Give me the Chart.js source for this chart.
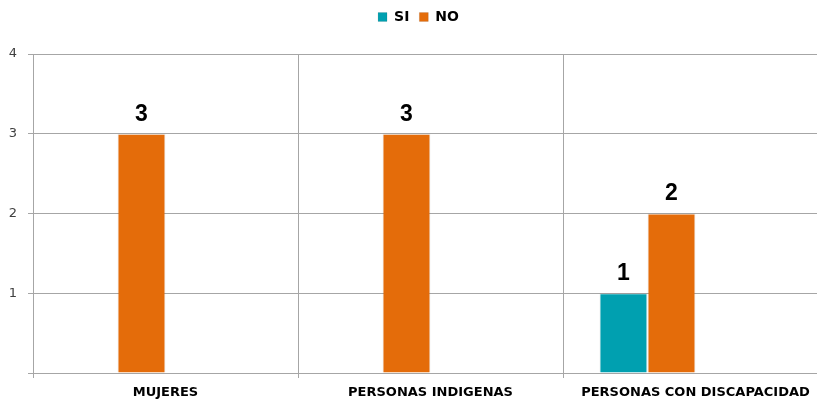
<!DOCTYPE html>
<html>
<head>
<meta charset="utf-8">
<script src="https://cdn.jsdelivr.net/npm/chart.js@4/dist/chart.umd.min.js"></script>
<style>
  html, body { margin: 0; padding: 0; background: #fff; overflow: hidden; }
  #wrap { width: 840px; height: 400px; }
</style>
</head>
<body>
<div id="wrap"><canvas id="chart"></canvas></div>
<script>
const categories = ["MUJERES", "PERSONAS INDIGENAS", "PERSONAS CON DISCAPACIDAD"];
const siValues = [null, null, 1];
const noValues = [3, 3, 2];
const yTicks = [0, 1, 2, 3, 4];

const TEAL = "#00A0B0";
const ORANGE = "#E46C0A";
const GRID = "#a6a6a6";

// bold value labels above each bar
const valueLabels = {
    id: "valueLabels",
    afterDatasetsDraw(chart) {
        const ctx = chart.ctx;
        ctx.save();
        ctx.font = "bold 23px 'Liberation Sans', Arial, sans-serif";
        ctx.fillStyle = "#000";
        ctx.textAlign = "center";
        ctx.textBaseline = "bottom";
        chart.data.datasets.forEach((ds, i) => {
            const meta = chart.getDatasetMeta(i);
            meta.data.forEach((bar, j) => {
                const v = ds.data[j];
                if (v == null) return;
                ctx.fillText(String(v), bar.x, bar.y - 8);
            });
        });
        ctx.restore();
    }
};

// extra room between legend and plot
const legendMargin = {
    id: "legendMargin",
    beforeInit(chart) {
        const fit = chart.legend.fit;
        chart.legend.fit = function () {
            fit.bind(chart.legend)();
            this.height += 20;
        };
    }
};

new Chart(document.getElementById("chart"), {
    type: "bar",
    data: {
        labels: categories,
        datasets: [
            { label: "SI", data: siValues, backgroundColor: TEAL, borderColor: "rgba(0,0,0,0.08)", borderWidth: 1 },
            { label: "NO", data: noValues, backgroundColor: ORANGE, borderColor: "rgba(0,0,0,0.08)", borderWidth: 1 },
            { label: "", data: [null, null, null] },
            { label: "", data: [null, null, null] }
        ]
    },
    options: {
        responsive: true,
        maintainAspectRatio: false,
        animation: false,
        layout: { padding: { left: 9, right: 12, top: 0, bottom: 1 } },
        datasets: { bar: { barPercentage: 1, categoryPercentage: 0.725 } },
        plugins: {
            legend: {
                position: "top",
                labels: {
                    boxWidth: 9,
                    boxHeight: 9,
                    padding: 10,
                    color: "#000",
                    font: { family: "'DejaVu Sans', sans-serif", size: 14, weight: "bold" },
                    filter: item => item.text !== ""
                }
            },
            tooltip: { enabled: false }
        },
        scales: {
            x: {
                offset: true,
                afterFit(scale) { scale.height = 26; },
                grid: { offset: true, color: GRID, tickLength: 5, drawOnChartArea: true },
                border: { color: GRID },
                ticks: {
                    color: "#000",
                    padding: 7,
                    maxRotation: 0,
                    font: { family: "'DejaVu Sans', sans-serif", size: 13, weight: "bold" }
                }
            },
            y: {
                min: 0,
                max: 4,
                afterFit(scale) { scale.width = 24; },
                afterBuildTicks(axis) { axis.ticks = yTicks.map(v => ({ value: v })); },
                grid: { color: GRID, tickLength: 5 },
                border: { color: GRID },
                ticks: {
                    color: "#404040",
                    padding: 11,
                    font: { family: "'DejaVu Sans', sans-serif", size: 13 },
                    callback: v => (v === 0 ? "" : v)
                }
            }
        }
    },
    plugins: [valueLabels, legendMargin]
});
</script>
</body>
</html>
